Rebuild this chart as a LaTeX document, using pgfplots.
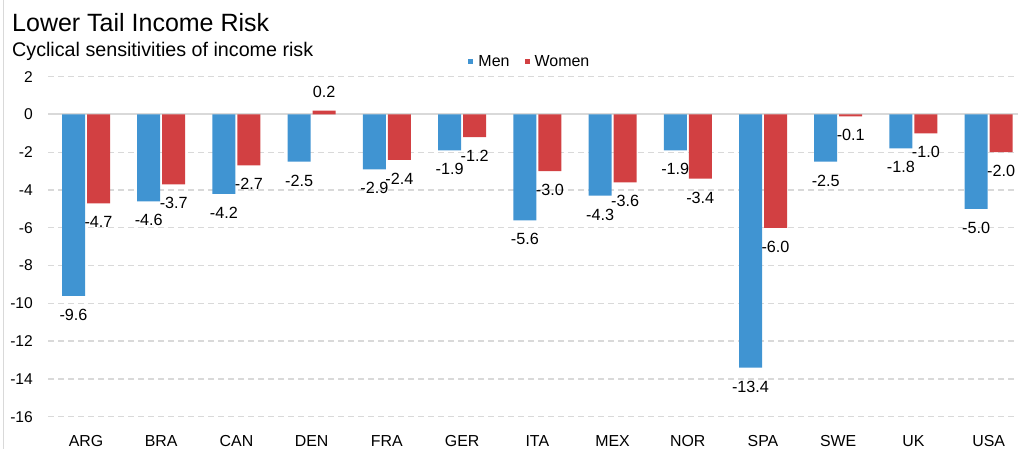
\documentclass[border=0pt]{standalone}
\usepackage{pgfplots}
\usepackage{pgfplotstable}
\pgfplotsset{compat=1.18}
\usepackage{fontspec}
\setmainfont{Liberation Sans}
\definecolor{menblue}{RGB}{64,148,210}
\definecolor{womenred}{RGB}{210,64,66}
\definecolor{gridgray}{RGB}{217,217,217}
\pgfplotstableread{
x men women
0 -9.6 -4.7
1 -4.6 -3.7
2 -4.2 -2.7
3 -2.5 0.2
4 -2.9 -2.4
5 -1.9 -1.2
6 -5.6 -3.0
7 -4.3 -3.6
8 -1.9 -3.4
9 -13.4 -6.0
10 -2.5 -0.1
11 -1.8 -1.0
12 -5.0 -2.0
}\data
\begin{document}
\begin{tikzpicture}
\useasboundingbox (0pt,0pt) rectangle (1019pt,449pt);
\draw[gray!30, line width=1pt] (3pt,0pt) -- (3pt,449pt);
\node[anchor=base west, inner sep=0pt, font=\fontsize{25}{30}\selectfont] at (12pt,417.3pt) {Lower Tail Income Risk};
\node[anchor=base west, inner sep=0pt, font=\fontsize{19.7}{23}\selectfont] at (12pt,392.3pt) {Cyclical sensitivities of income risk};
\begin{axis}[
  at={(48.4pt,32.3pt)}, anchor=south west,
  scale only axis, width=969.6pt, height=340pt,
  xmin=-0.5, xmax=12.39, ymin=-16, ymax=2,
  ybar=2pt, bar width=23pt,
  axis line style={draw=none}, tick style={draw=none},
  xtick={0,...,12},
  xticklabels={ARG,BRA,CAN,DEN,FRA,GER,ITA,MEX,NOR,SPA,SWE,UK,USA},
  ytick={-16,-14,...,2},
  yticklabels={-16,-14,-12,-10,-8,-6,-4,-2,0,2},
  xticklabel style={anchor=base, inner sep=0pt, yshift=-25.5pt, font=\fontsize{15.9}{18}\selectfont},
  yticklabel style={anchor=east, inner sep=0pt, xshift=-15.4pt, font=\fontsize{15.6}{18}\selectfont},
  ymajorgrids, grid style={gridgray, line width=1.3pt, dash pattern=on 6pt off 4pt},
  extra y ticks={0}, extra y tick labels={},
  extra y tick style={grid style={gridgray, line width=2pt, solid}},
  nodes near coords={\pgfmathprintnumber[fixed,fixed zerofill,precision=1,assume math mode=true]{\pgfplotspointmeta}},
  every node near coord/.append style={font=\fontsize{16.2}{19}\selectfont, inner xsep=0pt, inner ysep=13pt, text=black},
  legend style={at={(0.4966,1.0447)}, anchor=center, draw=none, fill=none, legend columns=2,
    font=\fontsize{16}{19}\selectfont, inner sep=0pt,
    /tikz/every odd column/.append style={column sep=3pt},
    /tikz/every even column/.append style={column sep=13pt}},
  legend image code/.code={\fill[#1] (0.5pt,-2.5pt) rectangle (5.5pt,2.5pt);},
]
\addplot[fill=menblue, draw=none] table[x=x, y=men] {\data};
\addplot[fill=womenred, draw=none] table[x=x, y=women] {\data};
\legend{Men,Women}
\end{axis}
\end{tikzpicture}
\end{document}
